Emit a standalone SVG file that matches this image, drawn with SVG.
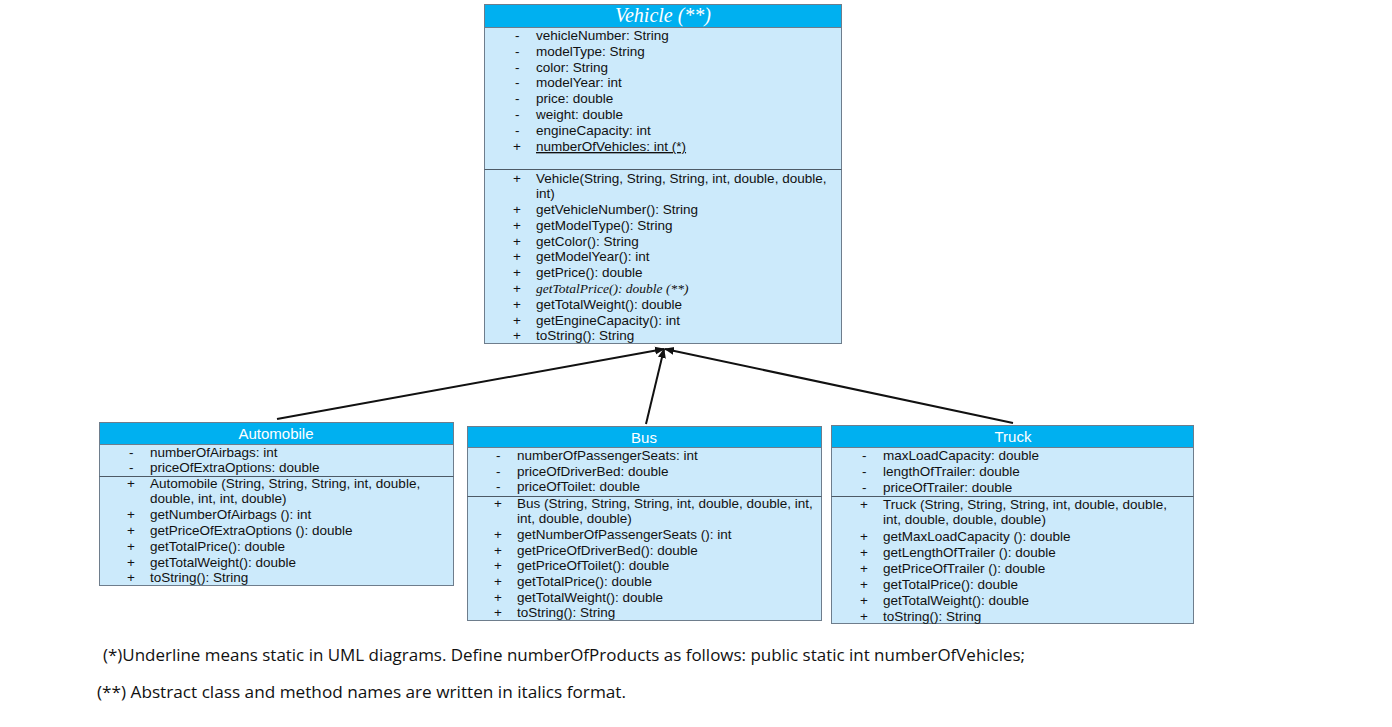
<svg xmlns="http://www.w3.org/2000/svg" width="1392" height="727" viewBox="0 0 1392 727">
<style>
.body{fill:#CCEAFB;stroke:#6E7D8C;stroke-width:1}
.head{fill:#00B0F0;stroke:#6E7D8C;stroke-width:1}
.sep{stroke:#4D5A66;stroke-width:1}
.t{font-family:"Liberation Sans",Arial,sans-serif;font-size:13.5px;fill:#111}
.ti{font-family:"Liberation Serif","Times New Roman",serif;font-style:italic;font-size:13.5px;fill:#111}
.h{font-family:"Liberation Sans",Arial,sans-serif;font-size:15px;fill:#fff;text-anchor:middle}
.hv{font-family:"Liberation Serif","Times New Roman",serif;font-style:italic;font-size:20px;fill:#fff;text-anchor:middle}
.note{font-family:"Open Sans","Liberation Sans",sans-serif;font-size:16px;fill:#111}
.conn{stroke:#111;stroke-width:2;fill:none}
</style>
<defs>
<marker id="arr" markerWidth="10" markerHeight="10" refX="9" refY="5" orient="auto" markerUnits="userSpaceOnUse">
<path d="M0,1 L10,5 L0,9 Z" fill="#111"/>
</marker>
</defs>
<rect width="1392" height="727" fill="#fff"/>

<g id="connectors">
<line class="conn" x1="277" y1="419" x2="664" y2="349" marker-end="url(#arr)"/>
<line class="conn" x1="646" y1="424" x2="664" y2="349" marker-end="url(#arr)"/>
<line class="conn" x1="1013" y1="423" x2="665" y2="349" marker-end="url(#arr)"/>
</g>

<g id="vehicle">
<rect class="body" x="484.5" y="4.5" width="357" height="339"/>
<rect class="head" x="484.5" y="4.5" width="357" height="23"/>
<text class="hv" x="663" y="22">Vehicle (**)</text>
<g class="t">
<text x="515" y="40">-</text><text x="536" y="40">vehicleNumber: String</text>
<text x="515" y="56">-</text><text x="536" y="56">modelType: String</text>
<text x="515" y="72">-</text><text x="536" y="72">color: String</text>
<text x="515" y="87">-</text><text x="536" y="87">modelYear: int</text>
<text x="515" y="103">-</text><text x="536" y="103">price: double</text>
<text x="515" y="119">-</text><text x="536" y="119">weight: double</text>
<text x="515" y="135">-</text><text x="536" y="135">engineCapacity: int</text>
<text x="513" y="151">+</text><text x="536" y="151" text-decoration="underline">numberOfVehicles: int (*)</text>
</g>
<line class="sep" x1="484.5" y1="169.5" x2="841.5" y2="169.5"/>
<g class="t">
<text x="513" y="183">+</text><text x="536" y="183">Vehicle(String, String, String, int, double, double,</text>
<text x="536" y="198">int)</text>
<text x="513" y="214">+</text><text x="536" y="214">getVehicleNumber(): String</text>
<text x="513" y="230">+</text><text x="536" y="230">getModelType(): String</text>
<text x="513" y="246">+</text><text x="536" y="246">getColor(): String</text>
<text x="513" y="261">+</text><text x="536" y="261">getModelYear(): int</text>
<text x="513" y="277">+</text><text x="536" y="277">getPrice(): double</text>
<text x="513" y="293">+</text><text class="ti" x="536" y="293">getTotalPrice(): double (**)</text>
<text x="513" y="309">+</text><text x="536" y="309">getTotalWeight(): double</text>
<text x="513" y="325">+</text><text x="536" y="325">getEngineCapacity(): int</text>
<text x="513" y="340">+</text><text x="536" y="340">toString(): String</text>
</g>
</g>

<g id="automobile">
<rect class="body" x="99.5" y="422.5" width="354" height="163"/>
<rect class="head" x="99.5" y="422.5" width="354" height="22"/>
<text class="h" x="276" y="439">Automobile</text>
<g class="t">
<text x="129" y="457">-</text><text x="150" y="457">numberOfAirbags: int</text>
<text x="129" y="472">-</text><text x="150" y="472">priceOfExtraOptions: double</text>
</g>
<line class="sep" x1="99.5" y1="476.5" x2="453.5" y2="476.5"/>
<g class="t">
<text x="127" y="488">+</text><text x="150" y="488">Automobile (String, String, String, int, double,</text>
<text x="150" y="503">double, int, int, double)</text>
<text x="127" y="519">+</text><text x="150" y="519">getNumberOfAirbags (): int</text>
<text x="127" y="535">+</text><text x="150" y="535">getPriceOfExtraOptions (): double</text>
<text x="127" y="551">+</text><text x="150" y="551">getTotalPrice(): double</text>
<text x="127" y="567">+</text><text x="150" y="567">getTotalWeight(): double</text>
<text x="127" y="582">+</text><text x="150" y="582">toString(): String</text>
</g>
</g>

<g id="bus">
<rect class="body" x="467.5" y="426.5" width="354" height="194"/>
<rect class="head" x="467.5" y="426.5" width="354" height="21"/>
<text class="h" x="644" y="443">Bus</text>
<g class="t">
<text x="496" y="460">-</text><text x="517" y="460">numberOfPassengerSeats: int</text>
<text x="496" y="476">-</text><text x="517" y="476">priceOfDriverBed: double</text>
<text x="496" y="491">-</text><text x="517" y="491">priceOfToilet: double</text>
</g>
<line class="sep" x1="467.5" y1="496.5" x2="821.5" y2="496.5"/>
<g class="t">
<text x="494" y="508">+</text><text x="517" y="508">Bus (String, String, String, int, double, double, int,</text>
<text x="517" y="523">int, double, double)</text>
<text x="494" y="539">+</text><text x="517" y="539">getNumberOfPassengerSeats (): int</text>
<text x="494" y="555">+</text><text x="517" y="555">getPriceOfDriverBed(): double</text>
<text x="494" y="570">+</text><text x="517" y="570">getPriceOfToilet(): double</text>
<text x="494" y="586">+</text><text x="517" y="586">getTotalPrice(): double</text>
<text x="494" y="602">+</text><text x="517" y="602">getTotalWeight(): double</text>
<text x="494" y="617">+</text><text x="517" y="617">toString(): String</text>
</g>
</g>

<g id="truck">
<rect class="body" x="831.5" y="425.5" width="362" height="198"/>
<rect class="head" x="831.5" y="425.5" width="362" height="22"/>
<text class="h" x="1013" y="442">Truck</text>
<g class="t">
<text x="862" y="460">-</text><text x="883" y="460">maxLoadCapacity: double</text>
<text x="862" y="476">-</text><text x="883" y="476">lengthOfTrailer: double</text>
<text x="862" y="492">-</text><text x="883" y="492">priceOfTrailer: double</text>
</g>
<line class="sep" x1="831.5" y1="496.5" x2="1193.5" y2="496.5"/>
<g class="t">
<text x="860" y="509">+</text><text x="883" y="509">Truck (String, String, String, int, double, double,</text>
<text x="883" y="524">int, double, double, double)</text>
<text x="860" y="541">+</text><text x="883" y="541">getMaxLoadCapacity (): double</text>
<text x="860" y="557">+</text><text x="883" y="557">getLengthOfTrailer (): double</text>
<text x="860" y="573">+</text><text x="883" y="573">getPriceOfTrailer (): double</text>
<text x="860" y="589">+</text><text x="883" y="589">getTotalPrice(): double</text>
<text x="860" y="605">+</text><text x="883" y="605">getTotalWeight(): double</text>
<text x="860" y="621">+</text><text x="883" y="621">toString(): String</text>
</g>
</g>

<g id="notes">
<text class="note" x="103" y="661" textLength="922" lengthAdjust="spacingAndGlyphs">(*)Underline means static in UML diagrams. Define numberOfProducts as follows: public static int numberOfVehicles;</text>
<text class="note" x="97" y="698" textLength="529" lengthAdjust="spacingAndGlyphs">(**) Abstract class and method names are written in italics format.</text>
</g>
</svg>
